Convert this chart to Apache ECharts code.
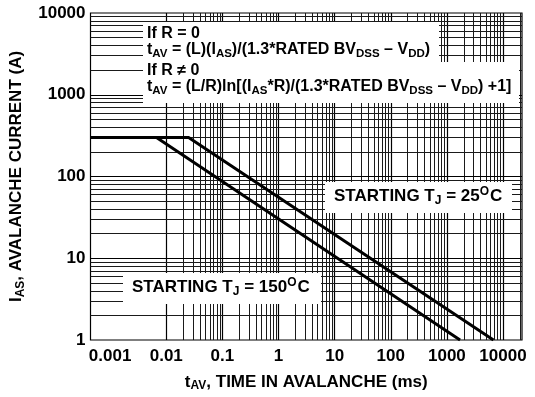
<!DOCTYPE html>
<html><head><meta charset="utf-8">
<script src="https://cdn.jsdelivr.net/npm/echarts@6/dist/echarts.min.js"></script>
<style>html,body{margin:0;padding:0;background:#fff}#c{width:535px;height:397px}</style>
</head><body><div id="c"></div>
<script>
// ---- data ----
const xTickLabels = ['0.001','0.01','0.1','1','10','100','1000','10000'];
const yTickLabels = ['1','10','100','1000','10000'];
const tj25 = [[0.000447, 300], [0.025, 300], [6760, 1]];
const tj150 = [[0.000447, 300], [0.0067, 300], [1717, 1]];
const xMin = 0.000447, xMax = 21800, yMin = 1, yMax = 10000;

const FF = '"Liberation Sans", Arial, Helvetica, sans-serif';

// log grid lines (axis structure)
const vLines = [], hLines = [];
for (let e = -4; e <= 4; e++) for (let m = 1; m <= 9; m++) {
  const v = m * Math.pow(10, e);
  if (v > xMin * 1.001 && v < xMax * 0.999) vLines.push({xAxis: v, lineStyle: {type: 'solid', width: m === 1 ? 1.2 : 1, color: m === 1 ? '#000' : '#1a1a1a'}});
}
for (let e = 0; e <= 3; e++) for (let m = 1; m <= 9; m++) {
  const v = m * Math.pow(10, e);
  if (v > yMin * 1.001 && v < yMax * 0.999) hLines.push({yAxis: v, lineStyle: {type: 'solid', width: m === 1 ? 1.2 : 1, color: m === 1 ? '#000' : '#1a1a1a'}});
}

const chart = echarts.init(document.getElementById('c'), null, {renderer: 'canvas'});
const fmt = v => String(Number(Number(v).toPrecision(6)));

const rich = {
  a: {fontFamily: FF, fontWeight: 'bold', fontSize: 16, color: '#000'},
  s: {fontFamily: FF, fontWeight: 'bold', fontSize: 11.5, color: '#000', padding: [7, 0, 0, 0]},
  A: {fontFamily: FF, fontWeight: 'bold', fontSize: 17, color: '#000'},
  S: {fontFamily: FF, fontWeight: 'bold', fontSize: 12, color: '#000', padding: [8, 0, 0, 0]},
  o: {fontFamily: FF, fontWeight: 'bold', fontSize: 12, color: '#000', padding: [0, 1, 9, 0]}
};

chart.setOption({
  animation: false,
  backgroundColor: '#fff',
  grid: {left: 83, right: 13, top: 13, bottom: 54, show: true, borderColor: '#000', borderWidth: 1.2},
  xAxis: {
    type: 'log', logBase: 10, min: xMin, max: xMax,
    axisLine: {show: false}, axisTick: {show: false}, splitLine: {show: false},
    axisLabel: {
      fontFamily: FF, fontWeight: 'bold', fontSize: 17, color: '#000', margin: 8,
      formatter: v => xTickLabels.includes(fmt(v)) ? fmt(v) : ''
    },
    name: '{A|t}{S|AV}{A|, TIME IN AVALANCHE (ms)}',
    nameLocation: 'middle', nameGap: 32,
    nameTextStyle: {rich: rich}
  },
  yAxis: {
    type: 'log', logBase: 10, min: yMin, max: yMax,
    axisLine: {show: false}, axisTick: {show: false}, splitLine: {show: false},
    axisLabel: {
      fontFamily: FF, fontWeight: 'bold', fontSize: 17, color: '#000', margin: 5,
      formatter: v => yTickLabels.includes(fmt(v)) ? fmt(v) : ''
    },
    name: '{A|I}{S|AS}{A|, AVALANCHE CURRENT (A)}',
    nameLocation: 'middle', nameGap: 64, nameRotate: 90,
    nameTextStyle: {rich: rich}
  },
  series: [
    {type: 'line', data: [], silent: true, z: 1,
     markLine: {silent: true, symbol: 'none', label: {show: false}, animation: false,
       lineStyle: {type: 'solid', color: '#000'},
       data: vLines.concat(hLines)}},
    {type: 'line', name: '25', data: tj25, showSymbol: false, symbol: 'none', z: 5,
     lineStyle: {color: '#000', width: 3}},
    {type: 'line', name: '150', data: tj150, showSymbol: false, symbol: 'none', z: 5,
     lineStyle: {color: '#000', width: 3}}
  ],
  graphic: [
    {type: 'rect', left: 143, top: 22, shape: {width: 296, height: 45}, style: {fill: '#fff'}, z: 50},
    {type: 'rect', left: 143, top: 62, shape: {width: 376, height: 41}, style: {fill: '#fff'}, z: 50},
    {type: 'text', left: 147, top: 26, z: 60, style: {text: '{a|If R = 0}', rich: rich}},
    {type: 'text', left: 147, top: 42, z: 60, style: {text: '{a|t}{s|AV}{a| = (L)(I}{s|AS}{a|)/(1.3*RATED BV}{s|DSS}{a| – V}{s|DD}{a|)}', rich: rich}},
    {type: 'text', left: 147, top: 63, z: 60, style: {text: '{a|If R ≠ 0}', rich: rich}},
    {type: 'text', left: 147, top: 79, z: 60, style: {text: '{a|t}{s|AV}{a| = (L/R)ln[(I}{s|AS}{a|*R)/(1.3*RATED BV}{s|DSS}{a| – V}{s|DD}{a|) +1]}', rich: rich}},
    {type: 'rect', left: 325, top: 182, shape: {width: 187, height: 31}, style: {fill: '#fff'}, z: 50},
    {type: 'text', left: 334, top: 186, z: 60, style: {text: '{A|STARTING T}{S|J}{A| = 25}{o|O}{A|C}', rich: rich}},
    {type: 'rect', left: 123, top: 273, shape: {width: 198, height: 31}, style: {fill: '#fff'}, z: 50},
    {type: 'text', left: 132, top: 277, z: 60, style: {text: '{A|STARTING T}{S|J}{A| = 150}{o|O}{A|C}', rich: rich}}
  ]
});
</script></body></html>
